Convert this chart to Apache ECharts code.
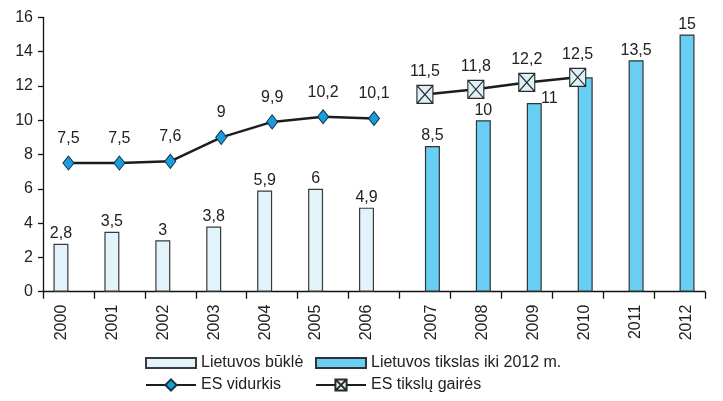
<!DOCTYPE html>
<html>
<head>
<meta charset="utf-8">
<script src="https://cdn.jsdelivr.net/npm/echarts@6/dist/echarts.min.js"></script>
<style>html,body{margin:0;padding:0;background:#fff}#c{width:723px;height:401px}</style>
</head>
<body>
<div id="c"></div>
<script>
const years = ['2000','2001','2002','2003','2004','2005','2006','2007','2008','2009','2010','2011','2012'];
const lietuvosBukle = [2.8, 3.5, 3, 3.8, 5.9, 6, 4.9, null, null, null, null, null, null];
const lietuvosTikslas = [null, null, null, null, null, null, null, 8.5, 10, 11, 12.5, 13.5, 15];
const esVidurkis = [7.5, 7.5, 7.6, 9, 9.9, 10.2, 10.1, null, null, null, null, null, null];
const esGaires = [null, null, null, null, null, null, null, 11.5, 11.8, 12.2, 12.5, null, null];
const yTicks = [0, 2, 4, 6, 8, 10, 12, 14, 16];
const names = ['Lietuvos būklė', 'Lietuvos tikslas iki 2012 m.', 'ES vidurkis', 'ES tikslų gairės'];

const FONT = "'Liberation Sans', Arial, sans-serif";
const TXT = '#222';
const fmt = p => (p.value == null ? '' : String(p.value).replace('.', ','));
// bar label hidden where it would sit on top of the target-line marker
const fmtTikslas = p => {
  const g = esGaires[p.dataIndex];
  if (p.value == null || (g != null && Math.abs(g - p.value) < 1)) return '';
  return String(p.value).replace('.', ',');
};
// bar label nudged aside when the target-line marker sits just above it
const layoutTikslas = p => {
  const g = esGaires[p.dataIndex], v = lietuvosTikslas[p.dataIndex];
  if (g != null && v != null && g - v >= 1 && g - v < 1.5) return {dx: 15, dy: 6};
  return {};
};
const crossSquare = 'path://M0,0 L10,0 L10,10 L0,10 Z M0,0 L10,10 M10,0 L0,10';

const chart = echarts.init(document.getElementById('c'), null, {renderer: 'canvas'});
const lastBukle = lietuvosBukle.reduce((a, v, i) => v != null ? i : a, -1);

const baseX = {
  type: 'category',
  data: years,
  boundaryGap: true,
  position: 'bottom',
  axisLine: {lineStyle: {color: '#111', width: 1.3}},
  axisTick: {show: true, length: 7, lineStyle: {color: '#111', width: 1.3}},
  splitLine: {show: false}
};

const legendCommon = {
  orient: 'horizontal',
  itemWidth: 50,
  itemHeight: 10,
  itemGap: 0,
  textStyle: {fontFamily: FONT, fontSize: 16, color: TXT},
  selectedMode: false
};

chart.setOption({
  animation: false,
  backgroundColor: '#fff',
  textStyle: {fontFamily: FONT},
  grid: {left: 43, right: 18, top: 17.3, bottom: 109.3, containLabel: false},
  legend: [
    Object.assign({}, legendCommon, {data: [{name: names[0], icon: 'rect'}], left: 140, top: 350}),
    Object.assign({}, legendCommon, {data: [{name: names[1], icon: 'rect'}], left: 310, top: 350}),
    Object.assign({}, legendCommon, {data: [names[2]], left: 140, top: 372, itemHeight: 14}),
    Object.assign({}, legendCommon, {data: [names[3]], left: 310, top: 372, itemHeight: 14})
  ],
  xAxis: [
    Object.assign({}, baseX, {
      axisLabel: {
        rotate: 90, margin: 13, fontSize: 16, color: TXT, fontFamily: FONT,
        interval: 0, lineHeight: 14, verticalAlign: 'bottom',
        formatter: (v, i) => (i <= lastBukle ? v : '')
      }
    }),
    Object.assign({}, baseX, {
      axisLine: {show: false}, axisTick: {show: false},
      axisLabel: {
        rotate: 90, margin: 13, fontSize: 16, color: TXT, fontFamily: FONT,
        interval: 0, lineHeight: 14, verticalAlign: 'top',
        formatter: (v, i) => (i > lastBukle ? v : '')
      }
    })
  ],
  yAxis: {
    type: 'value', min: yTicks[0], max: yTicks[yTicks.length - 1], interval: 2,
    axisLine: {show: true, lineStyle: {color: '#111', width: 1.3}},
    axisTick: {show: true, length: 5, lineStyle: {color: '#111', width: 1.3}},
    axisLabel: {margin: 10, fontSize: 16, color: TXT, fontFamily: FONT},
    splitLine: {show: false}
  },
  series: [
    {
      name: names[0], type: 'bar', data: lietuvosBukle, barWidth: 15, barGap: '0%',
      itemStyle: {color: '#e2f3fb', borderColor: '#3a3a3a', borderWidth: 1.2},
      label: {show: true, position: 'top', distance: 2, fontSize: 16, color: TXT, fontFamily: FONT, formatter: fmt}
    },
    {
      name: names[1], type: 'bar', data: lietuvosTikslas, barWidth: 15, barGap: '0%',
      itemStyle: {color: '#68cef3', borderColor: '#333', borderWidth: 1.2},
      label: {show: true, position: 'top', distance: 2, fontSize: 16, color: TXT, fontFamily: FONT, formatter: fmtTikslas},
      labelLayout: layoutTikslas
    },
    {
      name: names[2], type: 'line', data: esVidurkis, connectNulls: false,
      symbol: 'diamond', symbolSize: [11, 14],
      lineStyle: {color: '#1c1c1c', width: 2.5},
      itemStyle: {color: '#1a9edb', borderColor: '#14324a', borderWidth: 1},
      label: {show: true, position: 'top', distance: 9, fontSize: 16, color: TXT, fontFamily: FONT, formatter: fmt},
      z: 5
    },
    {
      name: names[3], type: 'line', data: esGaires, connectNulls: false,
      symbol: crossSquare, symbolSize: [16, 18], symbolKeepAspect: false,
      lineStyle: {color: '#1c1c1c', width: 2.5},
      itemStyle: {color: '#dff1f8', borderColor: '#2a2a2a', borderWidth: 1.2},
      label: {show: true, position: 'top', distance: 5, fontSize: 16, color: TXT, fontFamily: FONT, formatter: fmt},
      z: 5
    }
  ]
});
</script>
</body>
</html>
